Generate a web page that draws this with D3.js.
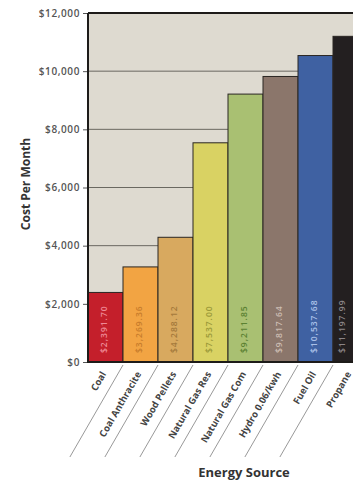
<!DOCTYPE html>
<html><head><meta charset="utf-8">
<script src="https://cdn.jsdelivr.net/npm/d3@7"></script>
<style>body{margin:0;background:#fff;} svg{display:block;}</style>
</head><body>
<script>
const categories = ["Coal","Coal Anthracite","Wood Pellets","Natural Gas Res","Natural Gas Com","Hydro 0.06/kwh","Fuel Oil","Propane"];
const values = [2391.70, 3269.36, 4288.12, 7537.00, 9211.85, 9817.64, 10537.68, 11197.99];
const valueLabels = ["$2,391.70","$3,269.36","$4,288.12","$7,537.00","$9,211.85","$9,817.64","$10,537.68","$11,197.99"];
const yTicks = [0,2000,4000,6000,8000,10000,12000];
const yTickLabels = ["$0","$2,000","$4,000","$6,000","$8,000","$10,000","$12,000"];
const barColors = ["#c41f2b","#f2a443","#d8a95f","#d9d263","#a9c072","#8b766b","#3f61a2","#231f20"];
const labelColors = ["#ee8a96","#c87d2c","#a57a3c","#9c9a3a","#5c8232","#cbbcb2","#a9c0e8","#8a8486"];

const W = 353, H = 482;
const pLeft = 88, pTop = 13, pBottom = 362, band = 35;
const svg = d3.select("body").append("svg").attr("width", W).attr("height", H);

const x = d3.scaleBand().domain(categories).range([pLeft, pLeft + band*categories.length]).padding(0);
const y = d3.scaleLinear().domain([0,12000]).range([pBottom, pTop]);
const pRight = pLeft + band*categories.length + 10;

// background
svg.append("rect").attr("x", pLeft).attr("y", pTop).attr("width", pRight - pLeft).attr("height", pBottom-pTop).attr("fill", "#dedad0");

// y axis
const yAxis = d3.axisLeft(y).tickValues(yTicks).tickFormat((d,i)=>yTickLabels[i]).tickSize(5).tickPadding(3);
const ga = svg.append("g").attr("transform", `translate(${pLeft},0)`).call(yAxis);
ga.select(".domain").remove();
ga.selectAll(".tick line").attr("stroke", "#555");
ga.selectAll(".tick text").attr("fill", "#555").style("font-family", "'Open Sans', sans-serif").style("font-size", "10px").style("font-weight", "600").attr("letter-spacing", "0.6");

// gridlines
svg.append("g").selectAll("line").data(yTicks.filter(d=>d>0 && d<12000)).join("line")
  .attr("x1", pLeft).attr("x2", pRight)
  .attr("y1", d=>y(d)).attr("y2", d=>y(d)).attr("stroke", "#6a6860").attr("stroke-width", 1);

// bars
svg.append("g").selectAll("rect").data(values).join("rect")
  .attr("x", (d,i)=>x(categories[i])).attr("width", x.bandwidth())
  .attr("y", d=>y(d)).attr("height", d=>pBottom - y(d))
  .attr("fill", (d,i)=>barColors[i]).attr("stroke", "#2a2622").attr("stroke-width", 1);

// value labels inside bars
svg.append("g").selectAll("text").data(values).join("text")
  .attr("transform", (d,i)=>`translate(${Math.min(x(categories[i]) + x.bandwidth()/2 + 1, W - 8)},${pBottom - 9}) rotate(-90)`)
  .attr("text-anchor", "start")
  .attr("fill", (d,i)=>labelColors[i])
  .style("font-family", "'Open Sans', sans-serif").style("font-size", "8.5px").style("font-weight", "600")
  .attr("letter-spacing", "1")
  .text((d,i)=>valueLabels[i]);

// plot frame
svg.append("line").attr("x1", pLeft).attr("x2", pLeft).attr("y1", pTop).attr("y2", pBottom).attr("stroke", "#1d1b19").attr("stroke-width", 2);
svg.append("line").attr("x1", pLeft).attr("x2", pRight).attr("y1", pTop).attr("y2", pTop).attr("stroke", "#1d1b19").attr("stroke-width", 2);
svg.append("line").attr("x1", pLeft-1).attr("x2", pRight).attr("y1", pBottom).attr("y2", pBottom).attr("stroke", "#1d1b19").attr("stroke-width", 2);

// slanted divider lines at band boundaries
const ang = 60 * Math.PI/180, dy = 92;
svg.append("g").selectAll("line").data(categories.slice(1)).join("line")
  .attr("x1", d=>x(d)).attr("y1", pBottom + 3)
  .attr("x2", d=>x(d) - dy/Math.tan(ang)).attr("y2", pBottom + 3 + dy)
  .attr("stroke", "#999").attr("stroke-width", 1);

// category labels
svg.append("g").selectAll("text").data(categories).join("text")
  .attr("transform", d=>`translate(${x(d) + x.bandwidth()/2 + 1},${pBottom + 12}) rotate(-60)`)
  .attr("text-anchor", "end")
  .attr("fill", "#444")
  .style("font-family", "'Open Sans', sans-serif").style("font-size", "9.5px").style("font-weight", "700")
  .text(d=>d);

// axis titles
svg.append("text").attr("transform", "translate(30,184) rotate(-90)").attr("text-anchor", "middle")
  .attr("fill", "#333").style("font-family", "'Open Sans', sans-serif").style("font-size", "12px").style("font-weight", "700")
  .text("Cost Per Month");
svg.append("text").attr("x", 244).attr("y", 477).attr("text-anchor", "middle")
  .attr("fill", "#333").style("font-family", "'Open Sans', sans-serif").style("font-size", "13px").style("font-weight", "700")
  .text("Energy Source");
</script>
</body></html>
